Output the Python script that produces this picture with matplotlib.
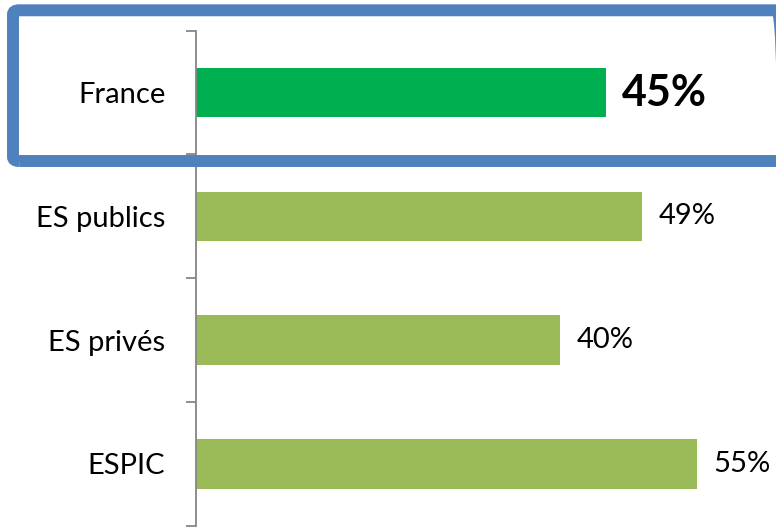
import matplotlib.pyplot as plt
from matplotlib.patches import FancyBboxPatch

# data
categories = ['France', 'ES publics', 'ES privés', 'ESPIC']
values = [45, 49, 40, 55]
colors = ['#00B050', '#9BBB59', '#9BBB59', '#9BBB59']

W, H = 776, 527
fig = plt.figure(figsize=(W / 100, H / 100), dpi=100)
ax = fig.add_axes([196 / W, 1.3 / H, 560 / W, 495 / H])

ypos = list(range(len(categories)))
ax.barh(ypos, values, height=0.4, color=colors)
ax.set_xlim(0, 560 / 9.111)
ax.set_ylim(len(categories) - 0.5, -0.5)

for s in ['top', 'right', 'bottom']:
	ax.spines[s].set_visible(False)
ax.spines['left'].set_color('#868686')
ax.spines['left'].set_linewidth(1.3)
ax.set_xticks([])

ax.set_yticks(ypos)
ax.set_yticklabels(categories, fontsize=21, family='Lato')
ax.tick_params(axis='y', which='major', length=0, pad=22)
ax.set_yticks([i - 0.5 for i in range(len(categories) + 1)], minor=True)
ax.tick_params(axis='y', which='minor', length=7.5, width=1.3, color='#868686')

for i, v in enumerate(values):
	if i == 0:
		ax.text(v + 1.75, i, '%d%%' % v, va='center', ha='left', fontsize=31, fontweight='bold', family='Lato')
	else:
		ax.text(v + 1.75, i, '%d%%' % v, va='center', ha='left', fontsize=21, family='Lato')

# blue frame around France row
frame = FancyBboxPatch((13 / W, 366 / H), 770 / W, 150.7 / H,
	boxstyle='round,pad=0,rounding_size=0.008', transform=fig.transFigure,
	fill=False, edgecolor='#4F81BD', linewidth=8.6, clip_on=False)
fig.patches.append(frame)

plt.savefig('out.png', dpi=100)
